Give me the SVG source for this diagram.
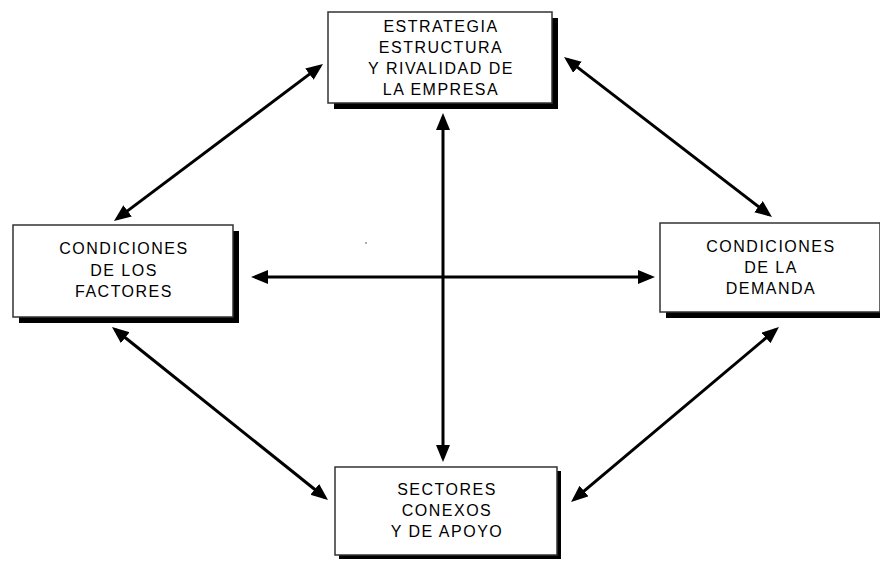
<svg xmlns="http://www.w3.org/2000/svg" width="880" height="561" viewBox="0 0 880 561">
  <style>
    .shadow { fill: #000; }
    .box { fill: #fff; stroke: #333; stroke-width: 1.5; }
    .label { font-family: "Liberation Sans", Arial, sans-serif; font-size: 16px; letter-spacing: 1.5px; fill: #000; text-anchor: middle; }
    .link { stroke: #000; stroke-width: 3; fill: none; marker-start: url(#head); marker-end: url(#head); }
  </style>
  <defs>
    <marker id="head" markerUnits="userSpaceOnUse" markerWidth="18" markerHeight="15" refX="13" refY="7" orient="auto-start-reverse">
      <path d="M0,0 L17,7 L0,14 Z" fill="#000"/>
    </marker>
  </defs>

  <rect x="0" y="0" width="880" height="561" fill="#fff"/>

  <!-- connectors -->
  <g id="connectors">
    <line class="link" x1="443" y1="117" x2="443" y2="458"/>
    <line class="link" x1="255" y1="277" x2="651" y2="277"/>
    <line class="link" x1="319.8" y1="66.4" x2="117.2" y2="218.6"/>
    <line class="link" x1="567.2" y1="59.4" x2="768.8" y2="214.6"/>
    <line class="link" x1="115.1" y1="329.5" x2="324.9" y2="497.5"/>
    <line class="link" x1="775.9" y1="329.6" x2="574.1" y2="499.4"/>
    <circle cx="366" cy="243" r="0.8" fill="#444"/>
  </g>

  <!-- firm strategy, structure and rivalry -->
  <g id="estrategia">
    <rect class="shadow" x="334" y="18" width="224" height="91"/>
    <rect class="box" x="328" y="12" width="224" height="91"/>
    <text class="label" x="441" y="32">ESTRATEGIA</text>
    <text class="label" x="441" y="53">ESTRUCTURA</text>
    <text class="label" x="441" y="74">Y RIVALIDAD DE</text>
    <text class="label" x="441" y="95">LA EMPRESA</text>
  </g>

  <!-- factor conditions -->
  <g id="factores">
    <rect class="shadow" x="19" y="231" width="220" height="92"/>
    <rect class="box" x="13" y="225" width="220" height="92"/>
    <text class="label" x="124" y="254">CONDICIONES</text>
    <text class="label" x="124" y="276">DE LOS</text>
    <text class="label" x="124" y="297">FACTORES</text>
  </g>

  <!-- demand conditions -->
  <g id="demanda">
    <rect class="shadow" x="666" y="229" width="220" height="89"/>
    <rect class="box" x="660" y="223" width="220" height="89"/>
    <text class="label" x="771" y="252">CONDICIONES</text>
    <text class="label" x="771" y="273">DE LA</text>
    <text class="label" x="771" y="294">DEMANDA</text>
  </g>

  <!-- related and supporting industries -->
  <g id="sectores">
    <rect class="shadow" x="339" y="471" width="222" height="88"/>
    <rect class="box" x="335" y="467" width="222" height="88"/>
    <text class="label" x="447" y="495">SECTORES</text>
    <text class="label" x="447" y="516">CONEXOS</text>
    <text class="label" x="447" y="537">Y DE APOYO</text>
  </g>
</svg>
